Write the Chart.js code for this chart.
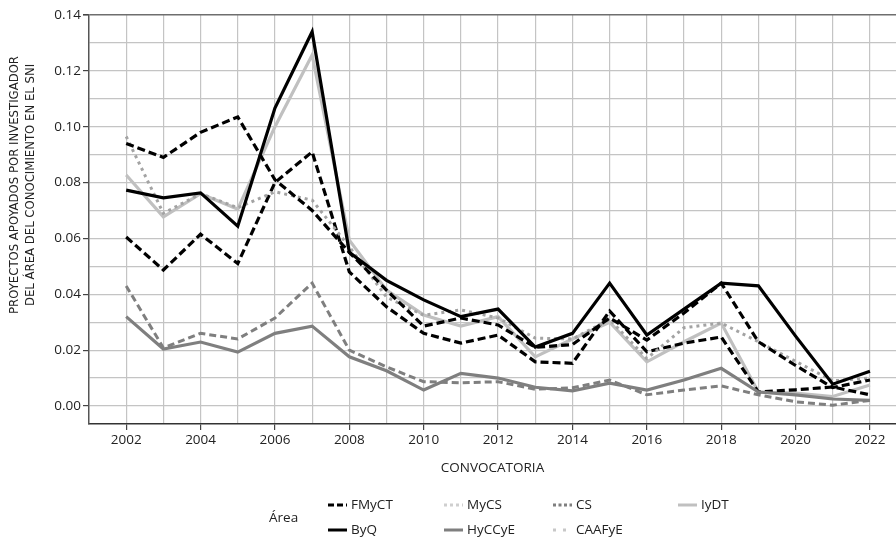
<!DOCTYPE html>
<html><head><meta charset="utf-8">
<script src="https://cdn.jsdelivr.net/npm/chart.js@4.4.0/dist/chart.umd.min.js"></script>
<style>body{margin:0;background:#fff}#wrap{width:896px;height:539px}</style>
</head><body><div id="wrap"><canvas id="c"></canvas></div>
<script>
// convocatorias (x) y valores por área
const years = [2002,2003,2004,2005,2006,2007,2008,2009,2010,2011,2012,2013,2014,2015,2016,2017,2018,2019,2020,2021,2022];
const yTicks = [0,0.01,0.02,0.03,0.04,0.05,0.06,0.07,0.08,0.09,0.10,0.11,0.12,0.13,0.14];

const fmyct  = [0.094,0.089,0.098,0.1035,0.081,0.070,0.055,0.0415,0.0286,0.0315,0.029,0.021,0.022,0.0315,0.0236,0.0333,0.044,0.023,0.0145,0.0066,0.0093];
const byq    = [0.0773,0.0745,0.0763,0.0644,0.1067,0.134,0.055,0.045,0.038,0.032,0.0347,0.0211,0.026,0.044,0.0254,0.0347,0.044,0.043,0.025,0.0078,0.0124];
const mycs   = [0.0965,0.069,0.076,0.071,0.0767,0.0737,0.057,0.039,0.0325,0.0344,0.0315,0.0243,0.024,0.031,0.017,0.028,0.0297,0.023,0.016,0.009,0.010];
const hyccye = [0.032,0.0204,0.0229,0.0193,0.026,0.0286,0.0176,0.0126,0.0057,0.0117,0.010,0.0067,0.0054,0.0082,0.0057,0.0093,0.0135,0.005,0.004,0.0025,0.002];
const cs     = [0.043,0.0208,0.026,0.024,0.0315,0.044,0.020,0.014,0.0087,0.0083,0.0087,0.006,0.0065,0.0093,0.004,0.0057,0.0072,0.004,0.0015,0.0003,0.002];
const caafye = [0.0605,0.0487,0.0615,0.051,0.080,0.091,0.048,0.0355,0.026,0.0225,0.0254,0.0158,0.0153,0.034,0.0194,0.0225,0.0247,0.005,0.0058,0.0068,0.004];
const iydt   = [0.0827,0.0677,0.076,0.0705,0.100,0.1257,0.0594,0.0415,0.0326,0.0286,0.032,0.0176,0.024,0.030,0.0158,0.023,0.0297,0.005,0.0046,0.0034,0.0075];

const legendOrder = ['FMyCT','MyCS','CS','IyDT','ByQ','HyCCyE','CAAFyE'];

const FONT = "'Open Sans', 'DejaVu Sans', sans-serif";
const NARROW = "'Liberation Sans Narrow', 'DejaVu Sans Condensed', 'Open Sans', sans-serif";

const pts = arr => arr.map((v, i) => ({x: years[i], y: v}));

const datasets = [
  {label:'FMyCT', data:pts(fmyct), borderColor:'#000', borderDash:[8,4], borderWidth:3.2,
   legendColor:'#000', legendDash:[6,3]},
  {label:'ByQ', data:pts(byq), borderColor:'#000', borderWidth:3.2,
   legendColor:'#000', legendDash:[]},
  {label:'MyCS', data:pts(mycs), borderColor:'#a3a3a3', borderDash:[3,4], borderWidth:3,
   legendColor:'#cfcfcf', legendDash:[3,3]},
  {label:'HyCCyE', data:pts(hyccye), borderColor:'#7f7f7f', borderWidth:3.2,
   legendColor:'#7f7f7f', legendDash:[]},
  {label:'CS', data:pts(cs), borderColor:'#7f7f7f', borderDash:[7,4], borderWidth:3,
   legendColor:'#7f7f7f', legendDash:[3,2.5]},
  {label:'CAAFyE', data:pts(caafye), borderColor:'#000', borderDash:[8,4], borderWidth:3.2,
   legendColor:'#c8c8c8', legendDash:[3,7]},
  {label:'IyDT', data:pts(iydt), borderColor:'#c0c0c0', borderWidth:3.2,
   legendColor:'#c0c0c0', legendDash:[]}
];

// titles and legend drawn by hand
const decor = {
  id: 'decor',
  afterDraw(chart) {
    const ctx = chart.ctx;
    const area = chart.chartArea;
    ctx.save();
    ctx.fillStyle = '#222';
    ctx.textBaseline = 'middle';

    // y title, two lines
    ctx.save();
    ctx.translate(0, 185);
    ctx.rotate(-Math.PI / 2);
    ctx.textAlign = 'center';
    ctx.font = '13px ' + NARROW;
    ctx.fillText('PROYECTOS APOYADOS POR INVESTIGADOR', 0, 15);
    ctx.fillText('DEL ÁREA DEL CONOCIMIENTO EN EL SNI', 0, 31);
    ctx.restore();

    // x title
    ctx.textAlign = 'center';
    ctx.font = '13.5px ' + FONT;
    ctx.fillText('CONVOCATORIA', (area.left + area.right) / 2, 468);

    // legend
    ctx.textAlign = 'left';
    ctx.font = '13.5px ' + FONT;
    ctx.fillText('Área', 269, 518);
    const colX = [328, 444, 553, 678];
    const rowY = [505, 530];
    legendOrder.forEach((name, k) => {
      const ds = chart.data.datasets.find(d => d.label === name);
      const x = colX[k % 4], y = rowY[Math.floor(k / 4)];
      ctx.beginPath();
      ctx.setLineDash(ds.legendDash);
      ctx.lineWidth = 3;
      ctx.strokeStyle = ds.legendColor;
      ctx.moveTo(x, y);
      ctx.lineTo(x + 19, y);
      ctx.stroke();
      ctx.setLineDash([]);
      ctx.fillText(name, x + 23, y);
    });
    ctx.restore();
  }
};

new Chart(document.getElementById('c'), {
  type: 'line',
  data: {datasets},
  plugins: [decor],
  options: {
    animation: false, responsive: true, maintainAspectRatio: false,
    layout: {padding: {top: 15, right: 0, bottom: 85, left: 0}},
    elements: {point: {radius: 0}, line: {tension: 0, borderCapStyle: 'butt'}},
    plugins: {legend: {display: false}, tooltip: {enabled: false}},
    scales: {
      x: {
        type: 'linear', min: 2001, max: 2022.7,
        afterBuildTicks: s => { s.ticks = years.map(v => ({value: v})); },
        afterFit: s => { s.height = 30; },
        ticks: {
          autoSkip: false, maxRotation: 0, padding: 2, color: '#222',
          font: {family: FONT, size: 13.5},
          callback: v => (v % 2 === 0 ? String(v) : '')
        },
        grid: {
          color: '#c4c4c4', lineWidth: 1.2, tickLength: 6,
          tickColor: c => (c.tick && c.tick.value % 2 === 0 ? '#444' : 'rgba(0,0,0,0)')
        },
        border: {color: '#333', width: 1.5}
      },
      y: {
        min: -0.00645, max: 0.14,
        afterBuildTicks: s => { s.ticks = yTicks.map(v => ({value: v})); },
        afterFit: s => { s.width = 89; },
        ticks: {
          padding: 2, color: '#222', font: {family: FONT, size: 13.5},
          callback: v => (Math.round(v * 100) % 2 === 0 ? v.toFixed(2) : '')
        },
        grid: {
          lineWidth: c => (c.tick && c.tick.value === 0.14 ? 1.6 : 1.2),
          color: c => (c.tick && c.tick.value === 0.14 ? '#6e6e6e' : '#c4c4c4'),
          tickLength: 6,
          tickColor: c => (c.tick && Math.round(c.tick.value * 100) % 2 === 0 ? '#444' : 'rgba(0,0,0,0)')
        },
        border: {color: '#555', width: 1.5}
      }
    }
  }
});
</script></body></html>
